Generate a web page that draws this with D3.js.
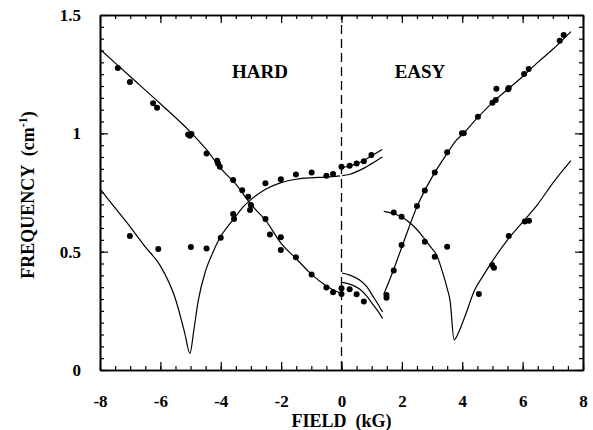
<!DOCTYPE html>
<html lang="en">
  <head>
    <meta charset="utf-8">
    <script src="https://cdn.jsdelivr.net/npm/d3@7"></script>
    <style>
      body { margin: 0; background: #fff; }
      svg text { font-family: "Liberation Serif", "DejaVu Serif", serif; font-weight: bold; fill: #000; }
    </style>
  </head>
  <body>
    <svg id="chart"></svg>
  <script>
    var width = 593, height = 430;
    var margin = {top: 15, right: 10, bottom: 60, left: 100};

    // measured points, [field kG, frequency cm-1]
    var ptsDown = [[-7.41,1.276],[-7.01,1.217],[-6.24,1.127],[-6.11,1.108],[-5.08,0.995],[-5.02,0.99],[-4.97,0.997],
      [-4.47,0.915],[-4.12,0.884],[-4.09,0.873],[-4.03,0.859],[-3.59,0.803],[-3.29,0.76],[-3.09,0.732],[-3.0,0.697],
      [-3.03,0.676],[-2.52,0.638],[-2.37,0.573],[-2.01,0.561],[-2.01,0.507],[-1.51,0.476],[-0.99,0.403],[-0.5,0.349],
      [-0.28,0.328],[0,0.345],[0,0.321],[0.27,0.341],[0.5,0.32],[0.74,0.289]];
    var ptsUp = [[-7.01,0.566],[-6.07,0.511],[-4.99,0.52],[-4.47,0.513],[-4.0,0.559],[-3.59,0.659],[-3.56,0.638],
      [-2.52,0.789],[-2.01,0.806],[-1.51,0.826],[-0.99,0.834],[-0.5,0.821],[-0.28,0.828],[0,0.859],[0.27,0.863],
      [0.5,0.873],[0.74,0.882],[0.99,0.908]];
    var ptsEasyUp = [[1.49,0.317],[1.49,0.305],[1.73,0.42],[1.99,0.528],[2.5,0.693],[2.76,0.758],[3.09,0.835],
      [3.5,0.92],[3.99,1.0],[4.05,1.0],[4.52,1.07],[5.0,1.129],[5.11,1.141],[5.13,1.188],[5.52,1.186],[5.54,1.192],
      [6.05,1.251],[6.2,1.272],[7.23,1.391],[7.36,1.415]];
    var ptsEasyLow = [[1.73,0.666],[1.99,0.648],[2.76,0.542],[3.09,0.479],[3.5,0.521],[4.55,0.321],[4.99,0.444],
      [5.05,0.432],[5.54,0.566],[6.07,0.627],[6.21,0.631]];

    // theory curves
    var lineDown = [[-8,1.355],[-7,1.24],[-6,1.125],[-5,1.005],[-4.5,0.935],[-4,0.852],[-3.5,0.785],[-3,0.7],
      [-2.5,0.63],[-2,0.535],[-1.5,0.47],[-1,0.405],[-0.5,0.355],[-0.05,0.325]];
    var lineHardV = [[-8,0.765],[-7.5,0.685],[-7,0.605],[-6.5,0.52],[-6,0.44],[-5.5,0.3],[-5.2,0.16],[-5.02,0.07],
      [-4.9,0.16],[-4.75,0.29],[-4.5,0.42],[-4.25,0.5],[-4,0.565],[-3.75,0.61],[-3.5,0.65],[-3.25,0.69],[-3,0.72],
      [-2.5,0.765],[-2,0.792],[-1.5,0.806],[-1,0.812],[-0.5,0.815],[-0.05,0.82]];
    var lineHiA = [[0.02,0.855],[0.25,0.862],[0.5,0.872],[0.75,0.886],[1.0,0.905],[1.35,0.932]];
    var lineHiB = [[0.02,0.821],[0.25,0.826],[0.5,0.838],[0.75,0.853],[1.0,0.872],[1.35,0.9]];
    var lineLoA = [[0.02,0.41],[0.3,0.4],[0.6,0.38],[0.85,0.35],[1.05,0.31],[1.2,0.28],[1.36,0.245]];
    var lineLoB = [[0.02,0.37],[0.3,0.362],[0.6,0.342],[0.85,0.31],[1.05,0.275],[1.2,0.25],[1.36,0.218]];
    var lineEasyUp = [[1.4,0.32],[1.7,0.415],[2.0,0.52],[2.5,0.69],[3.0,0.815],[3.5,0.915],[3.8,0.97],[4.0,0.995],
      [4.5,1.065],[5.0,1.13],[5.5,1.185],[6.0,1.24],[6.5,1.3],[7.0,1.355],[7.6,1.43]];
    var lineEasyV = [[1.4,0.67],[1.75,0.66],[2.15,0.634],[2.45,0.6],[2.7,0.563],[2.95,0.52],[3.15,0.486],
      [3.36,0.408],[3.5,0.345],[3.6,0.29],[3.73,0.127],[3.9,0.165],[4.1,0.23],[4.4,0.335],[4.7,0.4],[5.0,0.46],
      [5.5,0.55],[6.0,0.625],[6.5,0.7],[7.0,0.79],[7.6,0.885]];

    var xMajor = [-8,-6,-4,-2,0,2,4,6,8];
    var xLabels = ['-8','-6','-4','-2','0','2','4','6','8'];
    var xMinor = d3.range(-8, 8.01, 0.5);
    var yMajor = [0, 0.5, 1, 1.5];
    var yLabels = ['0','0.5','1','1.5'];
    var yMinor = d3.range(0, 1.501, 0.05);

    var svg = d3.select('#chart').attr('width', width).attr('height', height);
    var w = width - margin.left - margin.right;
    var h = height - margin.top - margin.bottom;
    var g = svg.append('g').attr('transform', 'translate(' + margin.left + ',' + margin.top + ')');

    var x = d3.scaleLinear().domain([-8, 8]).range([0, w]);
    var y = d3.scaleLinear().domain([0, 1.5]).range([h, 0]);

    // minor ticks first, all four sides, inward
    g.append('g').attr('transform', 'translate(0,' + h + ')')
      .call(d3.axisBottom(x).tickValues(xMinor).tickSizeInner(-4).tickSizeOuter(0).tickFormat(''));
    g.append('g')
      .call(d3.axisTop(x).tickValues(xMinor).tickSizeInner(-4).tickSizeOuter(0).tickFormat(''));
    g.append('g')
      .call(d3.axisLeft(y).tickValues(yMinor).tickSizeInner(-4).tickSizeOuter(0).tickFormat(''));
    g.append('g').attr('transform', 'translate(' + w + ',0)')
      .call(d3.axisRight(y).tickValues(yMinor).tickSizeInner(-4).tickSizeOuter(0).tickFormat(''));

    // major ticks with labels
    g.append('g').attr('class', 'xaxis').attr('transform', 'translate(0,' + h + ')')
      .call(d3.axisBottom(x).tickValues(xMajor).tickSizeInner(-8).tickSizeOuter(0).tickPadding(25)
        .tickFormat(function(d, i){ return xLabels[i]; }));
    g.append('g')
      .call(d3.axisTop(x).tickValues(xMajor).tickSizeInner(-8).tickSizeOuter(0).tickFormat(''));
    g.append('g').attr('class', 'yaxis')
      .call(d3.axisLeft(y).tickValues(yMajor).tickSizeInner(-8).tickSizeOuter(0).tickPadding(19)
        .tickFormat(function(d, i){ return yLabels[i]; }));
    g.append('g').attr('transform', 'translate(' + w + ',0)')
      .call(d3.axisRight(y).tickValues(yMajor).tickSizeInner(-8).tickSizeOuter(0).tickFormat(''));

    g.selectAll('.domain').attr('stroke', '#000').attr('stroke-width', 1.6);
    g.selectAll('.tick line').attr('stroke', '#000').attr('stroke-width', 1.2);
    g.selectAll('.xaxis text, .yaxis text').style('font-size', '17px');

    // dashed zero-field line
    g.append('line')
      .attr('x1', x(0)).attr('x2', x(0)).attr('y1', y(0)).attr('y2', y(1.5))
      .attr('stroke', '#000').attr('stroke-width', 1.3).attr('stroke-dasharray', '9,5');

    var line = d3.line()
      .x(function(d){ return x(d[0]); })
      .y(function(d){ return y(d[1]); })
      .curve(d3.curveMonotoneX);

    [lineDown, lineHardV, lineHiA, lineHiB, lineLoA, lineLoB, lineEasyUp, lineEasyV].forEach(function(c){
      g.append('path').datum(c)
        .attr('d', line)
        .attr('fill', 'none')
        .attr('stroke', '#000')
        .attr('stroke-width', 1.2);
    });

    var allPts = ptsDown.concat(ptsUp, ptsEasyUp, ptsEasyLow);
    g.selectAll('circle').data(allPts).enter()
      .append('circle')
      .attr('cx', function(d){ return x(d[0]); })
      .attr('cy', function(d){ return y(d[1]); })
      .attr('r', 3)
      .attr('fill', '#000');

    // labels
    g.append('text').attr('x', x(-2.7)).attr('y', 63).attr('text-anchor', 'middle')
      .style('font-size', '19px').text('HARD');
    g.append('text').attr('x', x(2.6)).attr('y', 63).attr('text-anchor', 'middle')
      .style('font-size', '19px').text('EASY');

    svg.append('text')
      .attr('x', margin.left + x(0)).attr('y', 427)
      .attr('text-anchor', 'middle')
      .style('font-size', '18px')
      .style('white-space', 'pre')
      .text('FIELD  (kG)');

    var yl = svg.append('text')
      .attr('transform', 'translate(34,' + 195 + ') rotate(-90)')
      .attr('text-anchor', 'middle')
      .style('font-size', '18px')
      .style('white-space', 'pre');
    yl.append('tspan').text('FREQUENCY  (cm');
    yl.append('tspan').attr('dy', -7).style('font-size', '12px').text('-1');
    yl.append('tspan').attr('dy', 7).text(')');
  </script>
  </body>
</html>
